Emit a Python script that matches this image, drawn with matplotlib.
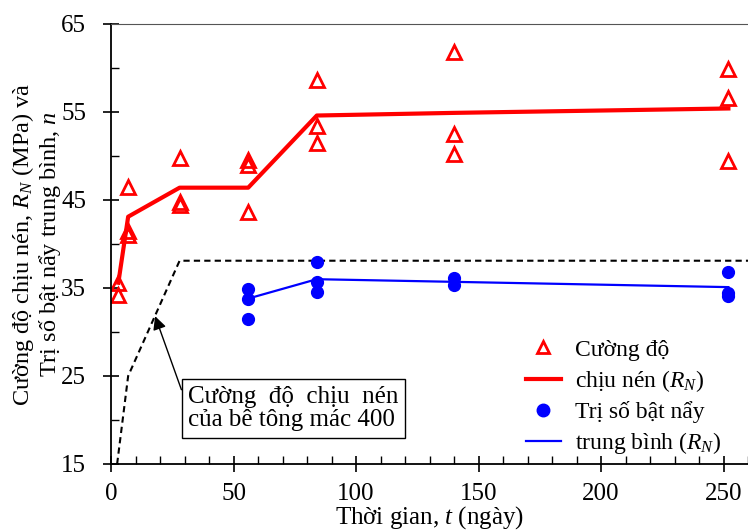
import numpy as np
import matplotlib
matplotlib.use("Agg")
import matplotlib.pyplot as plt
from matplotlib.lines import Line2D
from matplotlib.ticker import MultipleLocator

plt.rcParams['font.family'] = ['Liberation Serif', 'DejaVu Serif']
plt.rcParams['mathtext.fontset'] = 'custom'
plt.rcParams['mathtext.rm'] = 'Liberation Serif'
plt.rcParams['mathtext.it'] = 'Liberation Serif:italic'

# compressive strength samples (MPa), age in days
strength_t = [3, 3, 7, 7, 7, 28, 28, 28, 56, 56, 56, 84, 84, 84, 140, 140, 140, 252, 252, 252]
strength_v = [35.6, 34.2, 46.5, 41.5, 41.0, 49.8, 44.8, 44.4, 49.6, 49.0, 43.6,
              58.6, 53.4, 51.5, 61.8, 52.5, 50.2, 59.9, 56.6, 49.4]
# mean compressive strength
mean_t = [3, 7, 28, 56, 84, 140, 252]
mean_v = [35.6, 43.1, 46.4, 46.4, 54.6, 54.9, 55.4]

# rebound number samples
rebound_t = [56, 56, 56, 84, 84, 84, 140, 140, 252, 252, 252]
rebound_v = [34.9, 33.8, 31.5, 38.0, 35.7, 34.6, 36.1, 35.3, 36.8, 34.4, 34.1]
rebound_mean_t = [56, 84, 140, 252]
rebound_mean_v = [33.8, 36.0, 35.7, 35.1]

# grade 400 concrete strength curve
grade_t = [2.5, 7, 28, 260]
grade_v = [15, 25, 38.1, 38.1]

fig = plt.figure(figsize=(7.48, 5.30), dpi=100)
ax = fig.add_axes([111/748, 66/530, 637/748, 440/530])

ax.plot(grade_t, grade_v, color='black', ls=(0, (3, 2)), lw=1.5, clip_on=False)
ax.plot(mean_t, mean_v, color='red', lw=3)
ax.plot(strength_t, strength_v, ls='none', marker='^', ms=9.5, mfc='none',
        mec='red', mew=2)
ax.plot(rebound_mean_t, rebound_mean_v, color='blue', lw=1.6)
ax.plot(rebound_t, rebound_v, ls='none', marker='o', ms=8.5, color='blue')

ax.set_xlim(0, 260)
ax.set_ylim(15, 65)
ax.xaxis.set_major_locator(MultipleLocator(50))
ax.xaxis.set_minor_locator(MultipleLocator(10))
ax.yaxis.set_minor_locator(MultipleLocator(5))
ax.set_yticks([15, 25, 35, 45, 55, 65])
ax.tick_params(which='major', direction='inout', length=12, width=1.2,
               labelsize=18, pad=8)
ax.tick_params(which='minor', direction='in', length=6, width=1)
ax.tick_params(axis='y', which='major', pad=12)
ax.spines['right'].set_visible(False)
ax.spines['top'].set_color('#555555')
ax.spines['left'].set_linewidth(1.3)
ax.spines['bottom'].set_linewidth(1.3)

ax.set_xlabel('Thời gian, $\\it{t}$ (ngày)', fontsize=18, labelpad=-1)
ax.set_ylabel('Cường độ chịu nén, $R_N$ (MPa) và\nTrị số bật nẩy trung bình, $n$',
              fontsize=17.5, linespacing=1.05)
ax.yaxis.set_label_coords(-0.076, 0.5)

ax.annotate('Cường  độ  chịu  nén\ncủa bê tông mác 400', xy=(18, 31.8), xytext=(31.5, 21.3),
            fontsize=18, va='center', ha='left', linespacing=1.1,
            bbox=dict(boxstyle='square,pad=0.25', fc='white', ec='black', lw=1),
            arrowprops=dict(arrowstyle='-|>', color='black', lw=1, mutation_scale=20,
                            relpos=(0, 0.5), shrinkA=0, shrinkB=0))

handles = [
    Line2D([], [], ls='none', marker='^', ms=8, mfc='none', mec='red', mew=2),
    Line2D([], [], color='red', lw=3),
    Line2D([], [], ls='none', marker='o', ms=9, color='blue'),
    Line2D([], [], color='blue', lw=1.6),
]
labels = ['Cường độ', 'chịu nén ($R_N$)', 'Trị số bật nẩy', 'trung bình ($R_N$)']
ax.legend(handles, labels, loc='lower right', bbox_to_anchor=(0.992, -0.03),
          frameon=False, fontsize=17, handlelength=1.5, labelspacing=0.3,
          handletextpad=0.6)

fig.savefig('out.png', dpi=100)
